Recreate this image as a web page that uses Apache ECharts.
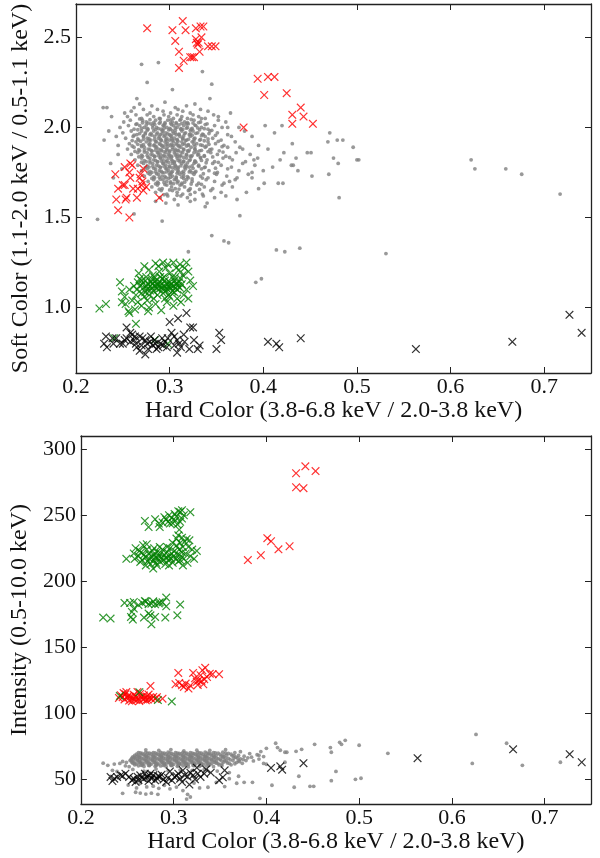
<!DOCTYPE html>
<html>
<head>
<meta charset="utf-8">
<script src="https://cdn.jsdelivr.net/npm/echarts@6/dist/echarts.min.js"></script>
<style>
  html, body { margin: 0; padding: 0; background: #fff; }
  #chart { width: 600px; height: 858px; }
</style>
</head>
<body>
<div id="chart"></div>
<script>
// top panel: [hard color, soft color]
var softGray = [
  [0.268,2.13],[0.281,2.12],[0.295,2.14],[0.306,2.11],[0.318,2.12],[0.262,2.11],[0.327,2.13],
  [0.259,2.09],[0.272,2.10],[0.279,2.08],[0.287,2.10],[0.293,2.09],[0.301,2.08],[0.309,2.10],[0.314,2.09],[0.322,2.08],[0.333,2.10],[0.341,2.09],
  [0.255,2.06],[0.264,2.07],[0.270,2.05],[0.276,2.07],[0.283,2.06],[0.289,2.05],[0.294,2.07],[0.299,2.06],[0.304,2.05],[0.308,2.07],[0.313,2.06],[0.319,2.05],[0.325,2.07],[0.331,2.06],[0.338,2.05],[0.347,2.07],
  [0.251,2.03],[0.258,2.04],[0.265,2.02],[0.271,2.04],[0.275,2.03],[0.280,2.02],[0.285,2.04],[0.290,2.03],[0.295,2.02],[0.298,2.04],[0.303,2.03],[0.307,2.02],[0.311,2.04],[0.316,2.03],[0.320,2.02],[0.326,2.04],[0.333,2.03],[0.340,2.02],[0.352,2.04],[0.360,2.03],
  [0.247,2.00],[0.256,2.01],[0.262,1.99],[0.268,2.01],[0.273,2.00],[0.277,1.99],[0.282,2.01],[0.286,2.00],[0.291,1.99],[0.294,2.01],[0.297,2.00],[0.301,1.99],[0.304,2.01],[0.308,2.00],[0.312,1.99],[0.315,2.01],[0.319,2.00],[0.323,1.99],[0.328,2.01],[0.334,2.00],[0.341,1.99],[0.348,2.01],[0.356,2.00],
  [0.250,1.97],[0.259,1.98],[0.265,1.96],[0.270,1.98],[0.274,1.97],[0.279,1.96],[0.283,1.98],[0.287,1.97],[0.290,1.96],[0.293,1.98],[0.296,1.97],[0.300,1.96],[0.303,1.98],[0.306,1.97],[0.310,1.96],[0.313,1.98],[0.317,1.97],[0.321,1.96],[0.325,1.98],[0.330,1.97],[0.336,1.96],[0.343,1.98],[0.351,1.97],[0.362,1.96],
  [0.253,1.94],[0.261,1.95],[0.267,1.93],[0.272,1.95],[0.276,1.94],[0.280,1.93],[0.284,1.95],[0.288,1.94],[0.291,1.93],[0.294,1.95],[0.297,1.94],[0.300,1.93],[0.302,1.95],[0.305,1.94],[0.308,1.93],[0.311,1.95],[0.314,1.94],[0.318,1.93],[0.322,1.95],[0.327,1.94],[0.332,1.93],[0.338,1.95],[0.346,1.94],[0.355,1.93],[0.366,1.95],
  [0.257,1.91],[0.264,1.92],[0.270,1.90],[0.275,1.92],[0.279,1.91],[0.283,1.90],[0.286,1.92],[0.289,1.91],[0.292,1.90],[0.295,1.92],[0.298,1.91],[0.301,1.90],[0.304,1.92],[0.307,1.91],[0.310,1.90],[0.313,1.92],[0.316,1.91],[0.320,1.90],[0.324,1.92],[0.329,1.91],[0.335,1.90],[0.341,1.92],[0.349,1.91],[0.358,1.90],[0.370,1.92],
  [0.255,1.88],[0.262,1.89],[0.268,1.87],[0.273,1.89],[0.277,1.88],[0.281,1.87],[0.285,1.89],[0.288,1.88],[0.291,1.87],[0.294,1.89],[0.297,1.88],[0.300,1.87],[0.303,1.89],[0.306,1.88],[0.309,1.87],[0.312,1.89],[0.315,1.88],[0.319,1.87],[0.323,1.89],[0.327,1.88],[0.332,1.87],[0.338,1.89],[0.345,1.88],[0.353,1.87],[0.362,1.89],[0.378,1.88],
  [0.259,1.85],[0.266,1.86],[0.271,1.84],[0.276,1.86],[0.280,1.85],[0.284,1.84],[0.287,1.86],[0.290,1.85],[0.293,1.84],[0.296,1.86],[0.299,1.85],[0.302,1.84],[0.305,1.86],[0.308,1.85],[0.311,1.84],[0.314,1.86],[0.318,1.85],[0.322,1.84],[0.326,1.86],[0.331,1.85],[0.337,1.84],[0.344,1.86],[0.351,1.85],[0.360,1.84],[0.371,1.86],[0.386,1.85],
  [0.263,1.82],[0.270,1.83],[0.275,1.81],[0.279,1.83],[0.283,1.82],[0.287,1.81],[0.290,1.83],[0.293,1.82],[0.296,1.81],[0.299,1.83],[0.302,1.82],[0.305,1.81],[0.308,1.83],[0.311,1.82],[0.315,1.81],[0.318,1.83],[0.322,1.82],[0.327,1.81],[0.333,1.83],[0.340,1.82],[0.348,1.81],[0.357,1.83],[0.367,1.82],[0.381,1.81],[0.394,1.83],
  [0.266,1.79],[0.272,1.80],[0.278,1.78],[0.282,1.80],[0.286,1.79],[0.290,1.78],[0.293,1.80],[0.296,1.79],[0.300,1.78],[0.303,1.80],[0.306,1.79],[0.309,1.78],[0.313,1.80],[0.317,1.79],[0.321,1.78],[0.326,1.80],[0.331,1.79],[0.338,1.78],[0.346,1.80],[0.355,1.79],[0.366,1.78],[0.378,1.80],[0.391,1.79],
  [0.270,1.76],[0.276,1.77],[0.281,1.75],[0.285,1.77],[0.289,1.76],[0.292,1.75],[0.296,1.77],[0.299,1.76],[0.302,1.75],[0.306,1.77],[0.309,1.76],[0.313,1.75],[0.317,1.77],[0.322,1.76],[0.327,1.75],[0.334,1.77],[0.342,1.76],[0.351,1.75],[0.362,1.77],[0.374,1.76],[0.388,1.75],
  [0.273,1.73],[0.279,1.74],[0.284,1.72],[0.288,1.74],[0.292,1.73],[0.296,1.72],[0.300,1.74],[0.303,1.73],[0.307,1.72],[0.311,1.74],[0.315,1.73],[0.320,1.72],[0.326,1.74],[0.333,1.73],[0.341,1.72],[0.350,1.74],[0.361,1.73],[0.372,1.72],[0.384,1.74],
  [0.277,1.70],[0.283,1.71],[0.288,1.69],[0.293,1.71],[0.297,1.70],[0.301,1.69],[0.305,1.71],[0.309,1.70],[0.313,1.69],[0.318,1.71],[0.324,1.70],[0.331,1.69],[0.339,1.71],[0.348,1.70],[0.358,1.69],[0.370,1.71],
  [0.281,1.67],[0.287,1.68],[0.292,1.66],[0.297,1.68],[0.302,1.67],[0.306,1.66],[0.311,1.68],[0.316,1.67],[0.322,1.66],[0.329,1.68],[0.337,1.67],[0.346,1.66],[0.356,1.68],[0.367,1.67],
  [0.285,1.64],[0.291,1.65],[0.297,1.63],[0.303,1.65],[0.308,1.64],[0.314,1.63],[0.320,1.65],[0.327,1.64],[0.335,1.63],[0.344,1.65],[0.355,1.64],
  [0.290,1.61],[0.298,1.62],[0.305,1.60],[0.312,1.62],[0.319,1.61],[0.327,1.60],[0.336,1.62],[0.348,1.61],
  [0.296,1.58],[0.309,1.57],[0.322,1.59],[0.338,1.56],[0.285,1.59],
  [0.268,2.047],[0.279,2.043],[0.290,2.048],[0.301,2.042],[0.312,2.046],[0.323,2.044],[0.334,2.049],
  [0.264,2.017],[0.275,2.013],[0.284,2.018],[0.293,2.012],[0.302,2.016],[0.310,2.014],[0.318,2.019],[0.327,2.013],[0.338,2.016],
  [0.266,1.987],[0.276,1.983],[0.285,1.988],[0.292,1.982],[0.299,1.986],[0.306,1.984],[0.314,1.989],[0.322,1.983],[0.332,1.987],[0.345,1.984],
  [0.262,1.957],[0.272,1.953],[0.281,1.958],[0.289,1.952],[0.295,1.956],[0.301,1.954],[0.307,1.959],[0.315,1.953],[0.324,1.957],[0.334,1.954],[0.349,1.956],
  [0.260,1.927],[0.269,1.923],[0.278,1.928],[0.285,1.922],[0.291,1.926],[0.297,1.924],[0.303,1.929],[0.309,1.923],[0.317,1.927],[0.326,1.924],[0.337,1.926],[0.352,1.923],
  [0.260,1.897],[0.270,1.893],[0.279,1.898],[0.286,1.892],[0.292,1.896],[0.298,1.894],[0.304,1.899],[0.310,1.893],[0.318,1.897],[0.327,1.894],[0.339,1.896],[0.356,1.893],
  [0.263,1.867],[0.273,1.863],[0.281,1.868],[0.288,1.862],[0.294,1.866],[0.300,1.864],[0.306,1.869],[0.312,1.863],[0.320,1.867],[0.329,1.864],[0.341,1.866],[0.357,1.863],
  [0.267,1.837],[0.277,1.833],[0.284,1.838],[0.290,1.832],[0.296,1.836],[0.302,1.834],[0.308,1.839],[0.315,1.833],[0.323,1.837],[0.333,1.834],[0.346,1.836],[0.364,1.833],
  [0.270,1.807],[0.279,1.803],[0.287,1.808],[0.293,1.802],[0.299,1.806],[0.305,1.804],[0.311,1.809],[0.319,1.803],[0.328,1.807],[0.339,1.804],[0.352,1.806],
  [0.274,1.777],[0.283,1.773],[0.290,1.778],[0.297,1.772],[0.303,1.776],[0.309,1.774],[0.316,1.779],[0.325,1.773],[0.337,1.777],[0.349,1.774],
  [0.277,1.747],[0.286,1.743],[0.294,1.748],[0.301,1.742],[0.308,1.746],[0.315,1.744],[0.324,1.749],[0.336,1.743],[0.348,1.746],
  [0.281,1.717],[0.290,1.713],[0.299,1.718],[0.307,1.712],[0.315,1.716],[0.324,1.714],[0.335,1.719],
  [0.285,1.687],[0.295,1.683],[0.304,1.688],[0.313,1.682],[0.323,1.686],[0.334,1.684],
  [0.289,1.657],[0.300,1.653],[0.310,1.658],[0.321,1.652],[0.332,1.656],
  [0.294,1.627],[0.308,1.623],[0.322,1.628],
  [0.271,2.026],[0.277,2.024],[0.283,2.027],[0.289,2.023],[0.295,2.026],[0.301,2.024],[0.307,2.027],[0.313,2.023],[0.319,2.026],[0.325,2.024],[0.331,2.027],
  [0.270,1.996],[0.276,1.994],[0.282,1.997],[0.288,1.993],[0.294,1.996],[0.300,1.994],[0.306,1.997],[0.312,1.993],[0.318,1.996],[0.324,1.994],[0.330,1.997],[0.337,1.993],
  [0.268,1.966],[0.274,1.964],[0.280,1.967],[0.286,1.963],[0.292,1.966],[0.298,1.964],[0.304,1.967],[0.310,1.963],[0.316,1.966],[0.322,1.964],[0.328,1.967],[0.335,1.963],[0.342,1.966],
  [0.266,1.936],[0.272,1.934],[0.278,1.937],[0.284,1.933],[0.290,1.936],[0.296,1.934],[0.302,1.937],[0.308,1.933],[0.314,1.936],[0.320,1.934],[0.326,1.937],[0.333,1.933],[0.341,1.936],
  [0.266,1.906],[0.272,1.904],[0.278,1.907],[0.284,1.903],[0.290,1.906],[0.296,1.904],[0.302,1.907],[0.308,1.903],[0.314,1.906],[0.320,1.904],[0.326,1.907],[0.333,1.903],[0.342,1.906],
  [0.267,1.876],[0.273,1.874],[0.279,1.877],[0.285,1.873],[0.291,1.876],[0.297,1.874],[0.303,1.877],[0.309,1.873],[0.315,1.876],[0.321,1.874],[0.327,1.877],[0.334,1.873],[0.343,1.876],
  [0.270,1.846],[0.276,1.844],[0.282,1.847],[0.288,1.843],[0.294,1.846],[0.300,1.844],[0.306,1.847],[0.312,1.843],[0.318,1.846],[0.324,1.844],[0.330,1.847],[0.337,1.843],
  [0.273,1.816],[0.279,1.814],[0.285,1.817],[0.291,1.813],[0.297,1.816],[0.303,1.814],[0.309,1.817],[0.315,1.813],[0.321,1.816],[0.327,1.814],[0.334,1.817],
  [0.276,1.786],[0.282,1.784],[0.288,1.787],[0.294,1.783],[0.300,1.786],[0.306,1.784],[0.312,1.787],[0.318,1.783],[0.324,1.786],[0.331,1.784],
  [0.279,1.756],[0.285,1.754],[0.291,1.757],[0.297,1.753],[0.303,1.756],[0.309,1.754],[0.315,1.757],[0.321,1.753],[0.328,1.756],
  [0.283,1.726],[0.289,1.724],[0.295,1.727],[0.301,1.723],[0.307,1.726],[0.313,1.724],[0.319,1.727],
  [0.287,1.696],[0.294,1.694],[0.301,1.697],[0.308,1.693],[0.316,1.696],
  [0.270,2.35],[0.288,2.36],[0.276,2.25],[0.303,2.21],[0.265,2.16],[0.345,2.24],[0.343,2.16],[0.335,2.31],[0.233,2.11],[0.229,2.11],
  [0.238,2.06],[0.230,1.93],[0.243,1.95],[0.352,2.06],[0.362,2.00],[0.374,2.00],[0.402,2.01],[0.412,1.97],[0.388,1.95],[0.431,1.91],
  [0.422,1.86],[0.375,1.89],[0.405,1.88],[0.432,1.79],[0.401,1.69],[0.416,1.69],[0.388,1.72],[0.382,1.64],[0.420,2.01],[0.471,1.97],
  [0.479,1.93],[0.485,1.93],[0.469,1.92],[0.496,1.89],[0.447,1.86],[0.451,1.86],[0.435,1.83],[0.475,1.83],[0.500,1.82],[0.502,1.82],
  [0.430,1.79],[0.480,1.80],[0.437,1.76],[0.452,1.73],[0.470,1.74],[0.421,1.69],[0.481,1.61],[0.622,1.82],[0.626,1.77],[0.659,1.77],
  [0.676,1.74],[0.717,1.63],[0.423,1.31],[0.439,1.33],[0.531,1.30],[0.223,1.49],[0.292,1.48],[0.262,1.52],[0.345,1.40],[0.358,1.37],
  [0.363,1.36],[0.375,1.51],[0.320,1.31],[0.398,1.16],[0.392,1.14],[0.414,1.32],[0.314,1.18],[0.237,1.80],[0.245,1.85],[0.240,1.72],
  [0.249,1.77],[0.395,1.90],[0.390,1.82],[0.410,1.78],[0.365,2.08],[0.380,1.98],[0.360,1.62],[0.340,1.58],[0.372,1.60],[0.395,1.66],
  [0.400,1.76],[0.418,1.82],[0.364,1.70],[0.245,1.90],[0.252,2.08],[0.235,1.98]
];
var softRed = [
  [0.276,2.55],[0.303,2.54],[0.314,2.59],[0.317,2.54],[0.306,2.48],[0.310,2.42],[0.310,2.33],[0.315,2.37],[0.322,2.39],[0.324,2.39],
  [0.326,2.39],[0.328,2.55],[0.333,2.56],[0.336,2.56],[0.328,2.49],[0.329,2.47],[0.330,2.46],[0.331,2.47],[0.334,2.50],[0.332,2.42],
  [0.341,2.45],[0.345,2.45],[0.349,2.45],
  [0.394,2.27],[0.405,2.28],[0.412,2.28],[0.401,2.18],[0.425,2.19],[0.379,2.00],[0.440,2.11],[0.431,2.07],[0.443,2.06],[0.431,2.02],[0.453,2.02],
  [0.242,1.74],[0.252,1.78],[0.258,1.80],[0.260,1.79],[0.257,1.75],[0.258,1.72],[0.245,1.66],[0.250,1.68],[0.252,1.68],[0.243,1.60],
  [0.253,1.60],[0.254,1.61],[0.245,1.54],[0.257,1.50],[0.265,1.61],[0.261,1.66],[0.266,1.66],[0.272,1.65],[0.270,1.68],[0.272,1.77],
  [0.269,1.74],[0.268,1.72],[0.275,1.67],[0.271,1.70],[0.289,1.61]
];
var softGreen = [
  [0.225,0.995],[0.232,1.02],[0.247,1.14],[0.249,1.09],[0.249,1.03],[0.253,1.02],[0.256,0.98],[0.257,0.97],[0.257,1.10],[0.252,1.06],
  [0.260,1.04],[0.264,0.91],[0.241,0.83],[0.284,0.82],[0.298,0.80],
  [0.267,1.19],[0.273,1.23],[0.285,1.245],[0.293,1.25],[0.304,1.25],[0.307,1.22],[0.318,1.25],[0.278,1.21],[0.282,1.18],[0.289,1.20],
  [0.296,1.22],[0.300,1.19],[0.310,1.21],[0.314,1.18],[0.298,1.24],[0.311,1.24],[0.288,1.23],[0.275,1.17],[0.306,1.17],[0.294,1.17],
  [0.320,1.20],[0.316,1.22],
  [0.325,1.12],[0.322,1.15],[0.318,1.10],[0.315,1.07],[0.320,1.05],[0.312,1.03],[0.304,1.01],[0.291,0.985],[0.277,0.98],[0.278,1.00],
  [0.297,1.03],[0.285,1.02],[0.270,1.01],[0.266,1.03],[0.308,1.05],[0.300,1.06],[0.263,0.99],
  [0.262,1.12],[0.265,1.10],[0.266,1.14],[0.268,1.12],[0.270,1.08],[0.271,1.13],[0.272,1.11],[0.274,1.15],[0.275,1.12],[0.276,1.10],
  [0.277,1.13],[0.278,1.07],[0.279,1.12],[0.280,1.14],[0.281,1.11],[0.282,1.13],[0.283,1.09],[0.284,1.12],[0.285,1.15],[0.286,1.11],
  [0.287,1.13],[0.288,1.10],[0.289,1.12],[0.290,1.14],[0.291,1.11],[0.292,1.13],[0.293,1.08],[0.294,1.12],[0.295,1.15],[0.296,1.11],
  [0.297,1.13],[0.298,1.10],[0.299,1.12],[0.300,1.14],[0.301,1.11],[0.302,1.13],[0.303,1.09],[0.304,1.12],[0.305,1.15],[0.306,1.11],
  [0.307,1.13],[0.308,1.10],[0.309,1.12],[0.310,1.14],[0.311,1.11],[0.312,1.16],[0.313,1.13],[0.268,1.16],[0.273,1.06],[0.281,1.16],
  [0.287,1.07],[0.292,1.16],[0.299,1.07],[0.303,1.17],[0.283,1.05],[0.295,1.05],[0.276,1.04],[0.290,1.17],[0.264,1.07],[0.270,1.15],
  [0.284,1.165],[0.296,1.095],[0.305,1.085],[0.279,1.095],[0.274,1.085],[0.287,1.125],[0.301,1.125],[0.293,1.105],[0.308,1.135],[0.282,1.135]
];
var softBlack = [
  [0.232,0.84],[0.230,0.80],[0.233,0.78],[0.239,0.83],[0.243,0.83],[0.250,0.80],[0.252,0.82],[0.254,0.83],[0.254,0.89],[0.258,0.86],
  [0.260,0.85],[0.262,0.82],[0.264,0.80],[0.265,0.78],[0.268,0.76],[0.274,0.74],[0.268,0.84],[0.271,0.83],[0.274,0.82],[0.276,0.80],
  [0.279,0.81],[0.282,0.79],[0.285,0.80],[0.288,0.78],[0.290,0.80],[0.293,0.79],[0.295,0.81],[0.300,0.92],[0.309,0.94],[0.302,0.86],
  [0.305,0.84],[0.308,0.82],[0.310,0.80],[0.308,0.75],[0.312,0.78],[0.318,0.97],[0.322,0.89],[0.325,0.89],[0.321,0.77],[0.330,0.77],
  [0.332,0.79],[0.316,0.81],[0.350,0.77],[0.355,0.82],[0.353,0.86],[0.405,0.81],[0.414,0.80],[0.417,0.78],[0.440,0.83],[0.563,0.77],
  [0.666,0.81],[0.727,0.96],[0.740,0.86],[0.263,0.84],[0.277,0.77],[0.284,0.82],[0.297,0.78],[0.247,0.80],[0.315,0.85],[0.298,0.83],
  [0.280,0.84],[0.270,0.79],[0.305,0.79],[0.326,0.82],[0.240,0.80],[0.258,0.81],[0.286,0.77],[0.292,0.83]
];

// bottom panel: [hard color, intensity]
var intGray = [
  [0.262,70.2],[0.266,69.6],[0.270,70.4],[0.274,69.8],[0.278,70.1],[0.282,69.5],[0.286,70.3],[0.290,69.9],[0.294,70.5],[0.298,69.7],
  [0.302,70.2],[0.306,69.6],[0.310,70.4],[0.314,69.9],[0.318,70.1],[0.322,69.5],[0.326,70.3],[0.330,69.8],[0.334,70.6],[0.338,69.7],
  [0.343,70.2],[0.348,69.9],[0.353,70.5],[0.359,69.6],[0.366,70.1],
  [0.258,68.1],[0.261,67.5],[0.265,68.4],[0.269,67.8],[0.273,68.2],[0.277,67.4],[0.281,68.3],[0.285,67.7],[0.289,68.5],[0.293,67.6],
  [0.297,68.0],[0.301,67.3],[0.305,68.4],[0.309,67.8],[0.313,68.2],[0.317,67.5],[0.321,68.3],[0.325,67.7],[0.329,68.1],[0.333,67.4],
  [0.337,68.4],[0.341,67.9],[0.346,68.2],[0.351,67.6],[0.357,68.3],[0.363,67.8],[0.370,68.1],[0.376,67.5],
  [0.255,66.1],[0.259,65.6],[0.263,66.4],[0.267,65.8],[0.271,66.3],[0.275,65.5],[0.279,66.2],[0.283,65.7],[0.287,66.5],[0.291,65.9],
  [0.295,66.1],[0.299,65.4],[0.303,66.3],[0.307,65.8],[0.311,66.2],[0.315,65.6],[0.319,66.4],[0.323,65.7],[0.327,66.1],[0.331,65.5],
  [0.335,66.3],[0.339,65.9],[0.343,66.2],[0.348,65.6],[0.353,66.4],[0.359,65.8],[0.365,66.1],[0.372,65.5],[0.380,66.3],
  [0.253,64.2],[0.257,63.6],[0.261,64.4],[0.265,63.8],[0.269,64.1],[0.273,63.5],[0.277,64.3],[0.281,63.7],[0.285,64.5],[0.289,63.9],
  [0.293,64.1],[0.297,63.4],[0.301,64.3],[0.305,63.8],[0.309,64.2],[0.313,63.6],[0.317,64.4],[0.321,63.7],[0.325,64.1],[0.329,63.5],
  [0.333,64.3],[0.337,63.9],[0.341,64.2],[0.346,63.6],[0.351,64.4],[0.357,63.8],[0.364,64.1],[0.371,63.5],[0.378,64.2],[0.386,63.9],
  [0.256,62.1],[0.260,61.6],[0.264,62.4],[0.268,61.8],[0.272,62.2],[0.276,61.5],[0.280,62.3],[0.284,61.7],[0.288,62.5],[0.292,61.9],
  [0.296,62.1],[0.300,61.4],[0.304,62.3],[0.308,61.8],[0.312,62.2],[0.316,61.6],[0.320,62.4],[0.324,61.7],[0.328,62.1],[0.332,61.5],
  [0.336,62.3],[0.341,61.9],[0.346,62.2],[0.352,61.6],[0.358,62.4],[0.366,61.8],[0.374,62.1],
  [0.262,60.2],[0.268,59.7],[0.274,60.4],[0.280,59.8],[0.286,60.1],[0.292,59.6],[0.298,60.3],[0.304,59.9],[0.310,60.2],[0.316,59.5],
  [0.322,60.4],[0.328,59.8],[0.335,60.1],[0.343,59.6],[0.352,60.3],
  [0.260,69.1],[0.268,68.8],[0.276,69.2],[0.284,68.9],[0.292,69.0],[0.300,68.7],[0.308,69.2],[0.316,68.9],[0.324,69.1],[0.332,68.8],[0.340,69.2],[0.350,68.9],[0.362,69.0],
  [0.256,67.0],[0.263,66.8],[0.271,67.2],[0.279,66.9],[0.287,67.1],[0.295,66.8],[0.303,67.2],[0.311,66.9],[0.319,67.1],[0.327,66.8],[0.335,67.2],[0.344,66.9],[0.354,67.1],[0.367,66.8],
  [0.254,65.0],[0.261,64.8],[0.269,65.2],[0.277,64.9],[0.285,65.1],[0.293,64.8],[0.301,65.2],[0.309,64.9],[0.317,65.1],[0.325,64.8],[0.333,65.2],[0.341,64.9],[0.350,65.1],[0.361,64.8],[0.375,65.0],
  [0.255,63.0],[0.263,62.8],[0.271,63.2],[0.279,62.9],[0.287,63.1],[0.295,62.8],[0.303,63.2],[0.311,62.9],[0.319,63.1],[0.327,62.8],[0.335,63.2],[0.344,62.9],[0.354,63.1],[0.368,62.8],
  [0.258,61.0],[0.266,60.8],[0.274,61.2],[0.282,60.9],[0.290,61.1],[0.298,60.8],[0.306,61.2],[0.314,60.9],[0.322,61.1],[0.330,60.8],[0.339,61.2],[0.349,60.9],[0.362,61.0],
  [0.264,70.0],[0.272,69.9],[0.280,70.0],[0.288,69.8],[0.296,70.0],[0.304,69.9],[0.312,70.0],[0.320,69.8],[0.328,70.0],[0.336,69.9],[0.345,70.0],[0.356,69.8],
  [0.262,68.0],[0.270,67.9],[0.278,68.1],[0.286,67.9],[0.294,68.1],[0.302,67.9],[0.310,68.1],[0.318,67.9],[0.326,68.1],[0.334,67.9],[0.343,68.1],[0.353,67.9],[0.365,68.0],
  [0.257,66.0],[0.265,65.9],[0.273,66.1],[0.281,65.9],[0.289,66.1],[0.297,65.9],[0.305,66.1],[0.313,65.9],[0.321,66.1],[0.329,65.9],[0.337,66.1],[0.346,65.9],[0.356,66.1],[0.369,66.0],
  [0.255,64.0],[0.263,63.9],[0.271,64.1],[0.279,63.9],[0.287,64.1],[0.295,63.9],[0.303,64.1],[0.311,63.9],[0.319,64.1],[0.327,63.9],[0.335,64.1],[0.344,63.9],[0.355,64.1],[0.370,64.0],
  [0.258,62.0],[0.266,61.9],[0.274,62.1],[0.282,61.9],[0.290,62.1],[0.298,61.9],[0.306,62.1],[0.314,61.9],[0.322,62.1],[0.330,61.9],[0.338,62.1],[0.348,61.9],[0.360,62.0],
  [0.265,60.6],[0.273,60.5],[0.281,60.7],[0.289,60.5],[0.297,60.7],[0.305,60.5],[0.313,60.7],[0.321,60.5],[0.329,60.7],[0.338,60.6],
  [0.270,72.3],[0.284,71.8],[0.297,72.5],[0.311,71.6],[0.325,72.1],[0.339,71.9],[0.356,72.4],[0.372,70.9],[0.382,69.5],[0.390,68.6],
  [0.384,66.8],[0.392,65.3],[0.397,67.2],
  [0.224,62.2],[0.229,60.6],[0.236,61.5],[0.242,62.0],[0.245,63.5],[0.249,62.8],[0.258,66.7],[0.248,60.2],[0.252,59.6],[0.234,56.8],[0.239,55.9],
  [0.245,39.4],[0.259,40.2],[0.264,39.6],[0.270,38.8],[0.276,39.5],[0.283,38.6],[0.264,47.0],[0.271,44.2],[0.278,44.8],[0.284,43.2],
  [0.290,45.5],[0.296,42.8],[0.303,44.1],[0.315,38.6],[0.314,35.0],[0.318,36.6],[0.328,43.5],[0.337,44.0],[0.346,47.7],[0.368,47.0],
  [0.376,47.7],[0.385,47.7],[0.393,35.6],[0.256,57.5],[0.268,56.2],[0.281,57.8],[0.294,56.5],[0.307,57.2],[0.320,56.8],[0.333,57.5],
  [0.347,56.2],[0.360,55.1],[0.251,45.6],[0.260,43.5],[0.310,41.5],[0.322,47.2],[0.355,44.5],[0.360,50.5],[0.370,52.3],
  [0.392,68.2],[0.397,62.0],[0.400,61.4],[0.394,71.0],[0.400,73.5],[0.410,77.3],[0.412,74.0],[0.415,72.0],[0.420,70.5],[0.420,62.9],
  [0.422,70.5],[0.432,71.2],[0.438,72.7],[0.452,76.5],[0.469,74.0],[0.470,70.5],[0.479,78.0],[0.481,76.5],[0.485,79.5],[0.500,75.8],
  [0.531,69.7],[0.435,52.3],[0.430,44.0],[0.447,44.7],[0.451,44.7],[0.475,56.0],[0.470,49.0],[0.496,50.0],[0.502,50.8],[0.626,84.0],
  [0.622,62.0],[0.659,77.3],[0.676,60.6],[0.717,62.9],[0.406,45.5]
];
var intRed = [
  [0.432,281.8],[0.442,287.0],[0.453,283.4],[0.432,271.2],[0.440,270.5],[0.380,216.0],[0.394,219.7],[0.401,232.6],[0.405,230.3],[0.413,224.2],[0.425,226.5],
  [0.241,111.6],[0.243,113.7],[0.245,112.2],[0.247,110.5],[0.248,114.5],[0.250,111.8],[0.251,113.2],[0.252,109.6],[0.253,112.5],[0.255,109.1],
  [0.256,111.2],[0.257,114.0],[0.258,110.2],[0.259,112.8],[0.261,116.2],[0.262,111.0],[0.263,109.3],[0.265,112.3],[0.267,110.6],[0.268,113.5],
  [0.269,111.4],[0.270,109.8],[0.271,112.7],[0.272,110.3],[0.273,114.2],[0.274,111.8],[0.275,120.7],[0.276,110.9],[0.278,112.4],[0.280,111.0],
  [0.282,112.2],[0.288,111.1],[0.260,110.0],[0.264,114.8],[0.249,116.1],[0.246,115.3],
  [0.305,130.6],[0.302,122.0],[0.309,121.2],[0.313,122.5],[0.316,118.7],[0.321,130.6],[0.325,123.8],[0.327,125.0],[0.329,128.8],[0.331,132.6],
  [0.334,134.4],[0.332,122.0],[0.336,127.5],[0.342,129.6],[0.349,129.6],[0.339,130.0],[0.311,120.0],[0.318,121.0],[0.326,121.5],[0.330,124.5],
  [0.323,126.5],[0.333,125.8],[0.306,123.0]
];
var intGreen = [
  [0.269,245.7],[0.273,241.0],[0.280,247.0],[0.284,243.7],[0.285,241.0],[0.292,246.7],[0.294,245.0],[0.296,243.7],[0.298,248.0],[0.301,251.0],
  [0.305,253.0],[0.307,252.5],[0.309,253.8],[0.307,245.0],[0.309,247.5],[0.306,239.0],[0.318,252.3],[0.303,249.0],[0.299,244.0],[0.311,250.0],
  [0.288,244.5],[0.290,248.5],[0.295,250.0],[0.302,246.0],[0.304,243.0],
  [0.249,217.0],[0.257,221.0],[0.259,225.0],[0.267,227.3],[0.264,214.6],[0.303,232.3],[0.305,234.8],[0.309,233.0],[0.317,231.0],[0.325,223.0],
  [0.310,212.0],[0.307,216.0],[0.278,209.6],
  [0.262,219],[0.265,222],[0.266,216],[0.268,220],[0.270,218],[0.271,224],[0.272,215],[0.273,221],[0.274,217],[0.275,213],
  [0.276,219],[0.277,223],[0.278,216],[0.279,220],[0.280,218],[0.281,214],[0.282,222],[0.283,217],[0.284,219],[0.285,215],
  [0.286,221],[0.287,218],[0.288,224],[0.289,216],[0.290,220],[0.291,213],[0.292,218],[0.293,222],[0.294,216],[0.295,219],
  [0.296,225],[0.297,217],[0.298,221],[0.299,214],[0.300,219],[0.301,223],[0.302,217],[0.303,227],[0.304,220],[0.305,215],
  [0.306,224],[0.307,229],[0.308,219],[0.309,222],[0.310,226],[0.311,217],[0.312,230],[0.313,221],[0.315,214],[0.316,226],
  [0.318,219],[0.320,224],[0.322,217],[0.314,232],[0.299,229],[0.293,226],[0.285,226],[0.279,225],[0.271,228],[0.263,223],
  [0.282,212],[0.295,212],[0.270,212],[0.258,217],
  [0.224,172.5],[0.232,171.7],[0.247,183.6],[0.253,183.6],[0.257,184.3],[0.255,176.7],[0.257,179.3],[0.254,173.0],[0.256,171.0],[0.266,183.6],
  [0.269,185.0],[0.273,182.6],[0.276,183.0],[0.280,182.5],[0.284,183.2],[0.285,184.0],[0.268,172.5],[0.273,175.5],[0.275,174.2],[0.276,167.4],
  [0.280,173.0],[0.291,172.5],[0.292,187.6],[0.292,181.0],[0.304,174.2],[0.307,182.3],[0.270,184.5],[0.278,184.8],[0.262,182.0],[0.288,184.0],
  [0.242,113.0],[0.263,116.0],[0.283,110.0],[0.298,109.0]
];
var intBlack = [
  [0.232,51.8],[0.234,48.7],[0.239,51.8],[0.243,53.0],[0.248,54.3],[0.252,51.8],[0.255,49.2],[0.257,50.5],[0.259,48.0],[0.264,53.0],
  [0.268,50.5],[0.269,54.3],[0.271,51.8],[0.273,48.7],[0.275,54.3],[0.276,50.5],[0.278,53.0],[0.280,49.2],[0.285,51.8],[0.289,49.8],
  [0.292,48.0],[0.296,56.0],[0.298,49.2],[0.301,51.8],[0.305,54.3],[0.307,50.5],[0.309,48.0],[0.310,56.8],[0.312,53.0],[0.317,46.0],
  [0.321,53.0],[0.325,58.8],[0.326,54.3],[0.329,51.8],[0.333,54.3],[0.349,49.2],[0.353,51.5],[0.355,56.8],[0.405,58.6],[0.415,59.8],
  [0.417,57.3],[0.440,62.2],[0.563,66.0],[0.666,72.7],[0.727,69.0],[0.740,62.9],[0.261,52.0],[0.266,51.0],[0.283,52.5],[0.287,53.5],
  [0.294,51.0],[0.303,52.5],[0.315,52.0],[0.318,55.0],[0.245,52.5],[0.236,50.5],[0.262,49.5],[0.274,52.8],[0.282,50.8],[0.323,50.0],
  [0.335,57.5],[0.340,55.0]
];

var serif = 'Liberation Serif';
var cross = 'path://M0,1L1,0L5,4L9,0L10,1L6,5L10,9L9,10L5,6L1,10L0,9L4,5Z';

function frameAxis(opt) {
  var base = {
    type: 'value',
    gridIndex: opt.grid,
    position: opt.position,
    min: opt.min,
    max: opt.max,
    interval: opt.interval,
    splitNumber: opt.splitNumber,
    scale: true,
    splitLine: { show: false },
    axisLine: { show: true, onZero: false, lineStyle: { color: '#222', width: 1.3 } },
    axisTick: { show: true, inside: true, length: 6, lineStyle: { color: '#222', width: 1 } },
    axisLabel: {
      show: !!opt.labels,
      showMinLabel: opt.showMin,
      showMaxLabel: false,
      margin: opt.margin,
      color: '#111',
      fontFamily: serif,
      fontSize: 22,
      formatter: opt.formatter
    }
  };
  if (opt.name) {
    base.name = opt.name;
    base.nameLocation = 'middle';
    base.nameGap = opt.nameGap;
    base.nameTextStyle = { fontFamily: serif, fontSize: 24, color: '#111' };
  }
  return base;
}

function fix1(v) { return v.toFixed(1); }
function fix0(v) { return String(Math.round(v)); }

function dots(data, xi, yi) {
  return { type: 'scatter', xAxisIndex: xi, yAxisIndex: yi, data: data, symbol: 'circle', symbolSize: 3.8,
    itemStyle: { color: '#808080' }, silent: true };
}
function crosses(data, xi, yi, color) {
  return { type: 'scatter', xAxisIndex: xi, yAxisIndex: yi, data: data, symbol: cross, symbolSize: 8.5,
    itemStyle: { color: color }, silent: true };
}

var hardName = 'Hard Color (3.8-6.8 keV / 2.0-3.8 keV)';

var chart = echarts.init(document.getElementById('chart'));
chart.setOption({
  animation: false,
  backgroundColor: '#fff',
  grid: [
    { left: 76, top: 4, width: 515, height: 369 },
    { left: 76, top: 436, width: 515, height: 368 }
  ],
  xAxis: [
    frameAxis({ grid: 0, position: 'bottom', min: 0.2, max: 0.75, interval: 0.1, labels: true, showMin: true, margin: 3, formatter: fix1, name: hardName, nameGap: 26 }),
    frameAxis({ grid: 0, position: 'top', min: 0.2, max: 0.75, interval: 0.1 }),
    frameAxis({ grid: 1, position: 'bottom', min: 0.2, max: 0.75, interval: 0.1, labels: true, showMin: true, margin: 3, formatter: fix1, name: hardName, nameGap: 26 }),
    frameAxis({ grid: 1, position: 'top', min: 0.2, max: 0.75, interval: 0.1 })
  ],
  yAxis: [
    frameAxis({ grid: 0, position: 'left', min: 0.637, max: 2.685, splitNumber: 4, labels: true, showMin: false, margin: 5, formatter: fix1, name: 'Soft Color (1.1-2.0 keV / 0.5-1.1 keV)', nameGap: 38 }),
    frameAxis({ grid: 0, position: 'right', min: 0.637, max: 2.685, splitNumber: 4 }),
    frameAxis({ grid: 1, position: 'left', min: 31.3, max: 310, splitNumber: 5, labels: true, showMin: false, margin: 5, formatter: fix0, name: 'Intensity (0.5-10.0 keV)', nameGap: 38 }),
    frameAxis({ grid: 1, position: 'right', min: 31.3, max: 310, splitNumber: 5 })
  ],
  series: [
    dots(softGray, 0, 0),
    crosses(softRed, 0, 0, '#ff0000'),
    crosses(softGreen, 0, 0, '#008000'),
    crosses(softBlack, 0, 0, '#000000'),
    dots(intGray, 2, 2),
    crosses(intRed, 2, 2, '#ff0000'),
    crosses(intGreen, 2, 2, '#008000'),
    crosses(intBlack, 2, 2, '#000000')
  ]
});
</script>
</body>
</html>
